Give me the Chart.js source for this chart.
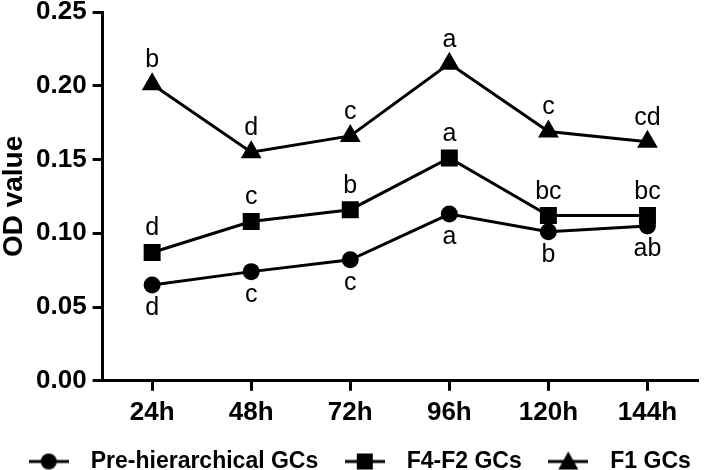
<!DOCTYPE html>
<html>
<head>
<meta charset="utf-8">
<script src="https://cdn.jsdelivr.net/npm/chart.js@4.4.1/dist/chart.umd.min.js"></script>
<style>
  html,body{margin:0;padding:0;background:#fff;}
  #wrap{width:709px;height:470px;}
</style>
</head>
<body>
<div id="wrap"><canvas id="c" width="709" height="470"></canvas></div>
<script>
  // data
  const hours = ["24h","48h","72h","96h","120h","144h"];
  const preHier = [0.065, 0.074, 0.082, 0.113, 0.101, 0.105];
  const f4f2 = [0.087, 0.108, 0.116, 0.151, 0.112, 0.112];
  const f1 = [0.201, 0.155, 0.166, 0.215, 0.169, 0.162];
  const preLetters = ["d","c","c","a","b","ab"];
  const f4f2Letters = ["d","c","b","a","bc","bc"];
  const f1Letters = ["b","d","c","a","c","cd"];
  const yTicks = [0, 0.05, 0.10, 0.15, 0.20, 0.25];

  const FONT = '"Liberation Sans", Arial, sans-serif';

  // little line+marker images for the legend
  function legendIcon(kind){
    const cv=document.createElement("canvas");
    cv.width=40; cv.height=24;
    const g=cv.getContext("2d");
    g.fillStyle="#000"; g.strokeStyle="#000"; g.lineWidth=3;
    g.beginPath(); g.moveTo(0,12); g.lineTo(40,12); g.stroke();
    g.beginPath();
    if(kind==="circle"){ g.arc(20,12,8,0,Math.PI*2); }
    else if(kind==="rect"){ g.rect(12,4,16,16); }
    else { g.moveTo(20,2); g.lineTo(30,20); g.lineTo(10,20); g.closePath(); }
    g.fill();
    return cv;
  }

  const letterPlugin = {
    id:"letters",
    afterDatasetsDraw(chart){
      const ctx=chart.ctx;
      ctx.save();
      ctx.fillStyle="#000";
      ctx.font="25px "+FONT;
      ctx.textAlign="center";
      ctx.textBaseline="alphabetic";
      chart.data.datasets.forEach((ds,i)=>{
        const meta=chart.getDatasetMeta(i);
        meta.data.forEach((pt,j)=>{
          const dy = ds.below ? 30 : -17;
          ctx.fillText(ds.letters[j], pt.x, pt.y+dy);
        });
      });
      ctx.restore();
    }
  };

  const common = { borderColor:"#000", backgroundColor:"#000", borderWidth:3,
                   pointBorderWidth:0, pointHoverRadius:0, tension:0, fill:false };

  new Chart(document.getElementById("c"), {
    type:"line",
    data:{
      labels:hours,
      datasets:[
        Object.assign({label:"Pre-hierarchical GCs", data:preHier, pointStyle:"circle", pointRadius:8.5,
          letters:preLetters, below:true, icon:legendIcon("circle")}, common),
        Object.assign({label:"F4-F2 GCs", data:f4f2, pointStyle:"rect", pointRadius:12,
          letters:f4f2Letters, below:false, icon:legendIcon("rect")}, common),
        Object.assign({label:"F1 GCs", data:f1, pointStyle:"triangle", pointRadius:12,
          letters:f1Letters, below:false, icon:legendIcon("tri")}, common)
      ]
    },
    options:{
      responsive:false,
      animation:false,
      events:[],
      layout:{padding:{left:0,right:0,top:0,bottom:-13}},
      plugins:{
        tooltip:{enabled:false},
        legend:{
          position:"bottom",
          labels:{
            usePointStyle:true,
            pointStyleWidth:61,
            padding:16,
            color:"#000",
            font:{family:FONT, size:23, weight:"bold"},
            generateLabels(chart){
              return chart.data.datasets.map((ds,i)=>({
                text:ds.label, pointStyle:ds.icon, datasetIndex:i,
                fillStyle:"#000", strokeStyle:"#000", lineWidth:0, fontColor:"#000"
              }));
            }
          }
        }
      },
      scales:{
        x:{
          offset:true,
          grid:{offset:false, drawOnChartArea:false, drawTicks:true, tickLength:10, color:"#000", lineWidth:3},
          border:{display:true, color:"#000", width:3},
          ticks:{color:"#000", padding:6, font:{family:FONT, size:26, weight:"bold"}}
        },
        y:{
          min:0, max:0.25,
          afterBuildTicks(axis){ axis.ticks = yTicks.map(v=>({value:v})); },
          grid:{drawOnChartArea:false, drawTicks:true, tickLength:10, color:"#000", lineWidth:3},
          border:{display:true, color:"#000", width:3},
          ticks:{color:"#000", padding:6, font:{family:FONT, size:26, weight:"bold", lineHeight:0.46},
                 callback:v=>Number(v).toFixed(2)},
          title:{display:true, text:"OD value", color:"#000", padding:{top:0,bottom:2},
                 font:{family:FONT, size:28, weight:"bold", lineHeight:1}}
        }
      }
    },
    plugins:[letterPlugin]
  });
</script>
</body>
</html>
